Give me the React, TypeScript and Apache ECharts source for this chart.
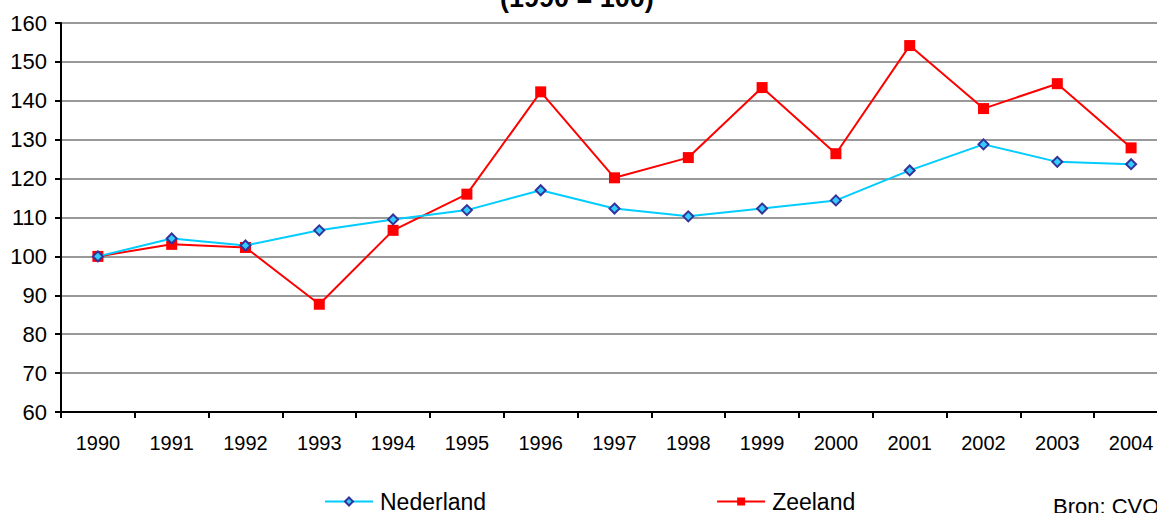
import React, { useEffect, useRef } from "react";
import * as echarts from "echarts";

const years = ["1990","1991","1992","1993","1994","1995","1996","1997","1998","1999","2000","2001","2002","2003","2004"];
const nederland = [100, 104.6, 102.8, 106.7, 109.5, 111.9, 117.0, 112.3, 110.3, 112.3, 114.4, 122.1, 128.8, 124.3, 123.7];
const zeeland = [100, 103.1, 102.3, 87.7, 106.7, 116.0, 142.3, 120.2, 125.4, 143.4, 126.4, 154.2, 138.0, 144.4, 127.9];
const titleText = "(1990 = 100)";
const sourceText = "Bron: CVO";

export default function App() {
  const ref = useRef<HTMLDivElement>(null);
  useEffect(() => {
    if (!ref.current) return;
    const chart = echarts.init(ref.current, null, { renderer: "svg" });
    const font = "Liberation Sans, Arial, sans-serif";
    chart.setOption({
      animation: false,
      backgroundColor: "#ffffff",
      textStyle: { fontFamily: font },
      grid: { left: 61, right: -11, top: 23, bottom: 101, containLabel: false, outerBoundsMode: "none" },
      xAxis: {
        type: "category",
        data: years,
        boundaryGap: true,
        axisLine: { lineStyle: { color: "#000", width: 2 } },
        axisTick: { show: true, length: 6, lineStyle: { color: "#000", width: 2 } },
        axisLabel: { color: "#000", fontSize: 20, margin: 21, fontFamily: font },
        splitLine: { show: false },
      },
      yAxis: {
        type: "value",
        min: 60,
        max: 160,
        interval: 10,
        axisLine: { show: true, lineStyle: { color: "#000", width: 2 } },
        axisTick: { show: true, length: 6, lineStyle: { color: "#000", width: 2 } },
        axisLabel: { color: "#000", fontSize: 22, margin: 14, fontFamily: font },
        splitLine: { show: true, lineStyle: { color: "#999", width: 2 } },
      },
      legend: {
        left: 324,
        top: 490,
        padding: 0,
        itemGap: 230,
        itemWidth: 48,
        itemHeight: 10,
        textStyle: { color: "#000", fontSize: 23, fontFamily: font, padding: [0, 0, 0, 2] },
        data: ["Nederland", "Zeeland"],
      },
      graphic: [
        {
          type: "text",
          left: 500,
          top: -16,
          style: { text: titleText, font: "bold 27px " + font, fill: "#000" },
        },
        {
          type: "text",
          left: 1053,
          top: 495,
          style: { text: sourceText, font: "22px " + font, fill: "#000" },
        },
      ],
      series: [
        {
          name: "Nederland",
          type: "line",
          data: nederland,
          symbol: "diamond",
          symbolSize: 10,
          lineStyle: { color: "#00ccff", width: 2 },
          itemStyle: { color: "#33ccff", borderColor: "#333399", borderWidth: 2 },
          z: 3,
        },
        {
          name: "Zeeland",
          type: "line",
          data: zeeland,
          symbol: "rect",
          symbolSize: 11,
          lineStyle: { color: "#ff0000", width: 2 },
          itemStyle: { color: "#ff0000" },
          z: 2,
        },
      ],
    });
    return () => chart.dispose();
  }, []);
  return <div ref={ref} style={{ width: 1157, height: 513, position: "absolute", left: 0, top: 0 }} />;
}
